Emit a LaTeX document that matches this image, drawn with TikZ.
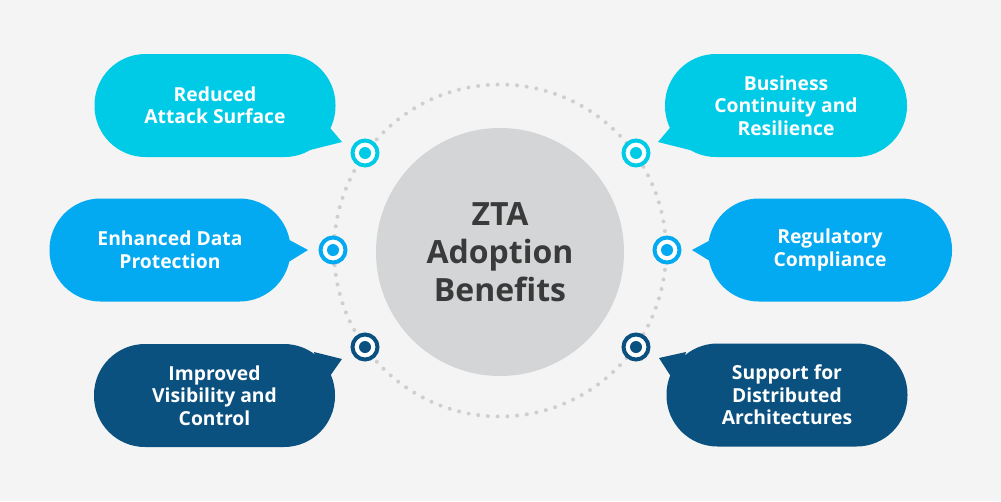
\documentclass[tikz,border=0pt]{standalone}
\usepackage{fontspec}
\setmainfont{Open Sans}
\definecolor{bgc}{HTML}{F4F4F4}
\definecolor{cyanc}{HTML}{00CBE6}
\definecolor{bluec}{HTML}{03A9F1}
\definecolor{darkc}{HTML}{0A5180}
\definecolor{greyc}{HTML}{D4D5D7}
\definecolor{dotc}{HTML}{CFCFCF}
\definecolor{titlec}{HTML}{3A3A3A}
\begin{document}
\begin{tikzpicture}[x=1pt,y=-1pt,
  bubble/.style={rectangle, rounded corners=51pt, minimum width=241pt, minimum height=103pt,
    inner sep=0pt, align=center, text=white, font=\bfseries\fontsize{19.3}{22.5}\selectfont},
  target/.style={circle, draw=#1, line width=4pt, fill=white, minimum size=25pt, inner sep=0pt},
  dotin/.style={circle, fill=#1, minimum size=12pt, inner sep=0pt}]
\useasboundingbox (0,0) rectangle (1001,501);
\fill[bgc] (0,0) rectangle (1001,501);
% dotted ring
\draw[dotc, line width=4pt, line cap=round, dash pattern=on 0pt off 9.75pt] (500,250.5) circle[radius=166pt];
% centre
\node[circle, fill=greyc, minimum size=248pt, inner sep=0pt, align=center, text=titlec,
  font=\bfseries\fontsize{32}{38}\selectfont] (core) at (500,252) {ZTA\\Adoption\\Benefits};
% tails
\coordinate (t1) at (342,142);
\coordinate (t2) at (308,250);
\coordinate (t3) at (342,359);
\coordinate (t4) at (658,142);
\coordinate (t5) at (692,250);
\coordinate (t6) at (659,358);
\fill[cyanc] (320,116) -- (t1) -- (310,150) -- cycle;
\fill[bluec] (282,236) -- (t2) -- (282,266) -- cycle;
\fill[darkc] (314,352) -- (t3) -- (323,386) -- cycle;
\fill[cyanc] (680,116) -- (t4) -- (690,150) -- cycle;
\fill[bluec] (718,236) -- (t5) -- (718,266) -- cycle;
\fill[darkc] (686,352) -- (t6) -- (677,386) -- cycle;
% bubbles
\node[bubble, fill=cyanc] (b1) at (215,105.5) {Reduced\\Attack Surface};
\node[bubble, fill=bluec] (b2) at (170,250) {Enhanced Data\\Protection};
\node[bubble, fill=darkc] (b3) at (214.5,395.5) {Improved\\Visibility and\\Control};
\node[bubble, fill=cyanc, minimum width=242pt] (b4) at (786,105.5) {Business\\Continuity and\\Resilience};
\node[bubble, fill=bluec, minimum width=244pt] (b5) at (830,250) {Regulatory\\Compliance};
\node[bubble, fill=darkc] (b6) at (787,395) {Support for\\Distributed\\Architectures};
% targets
\foreach \n/\p/\c in {1/{365,153}/cyanc, 2/{333,250}/bluec, 3/{365,347}/darkc,
                      4/{636,153}/cyanc, 5/{667,250}/bluec, 6/{636,347}/darkc}{
  \node[target=\c] (g\n) at (\p) {};
  \node[dotin=\c] at (g\n.center) {};
}
\end{tikzpicture}
\end{document}
